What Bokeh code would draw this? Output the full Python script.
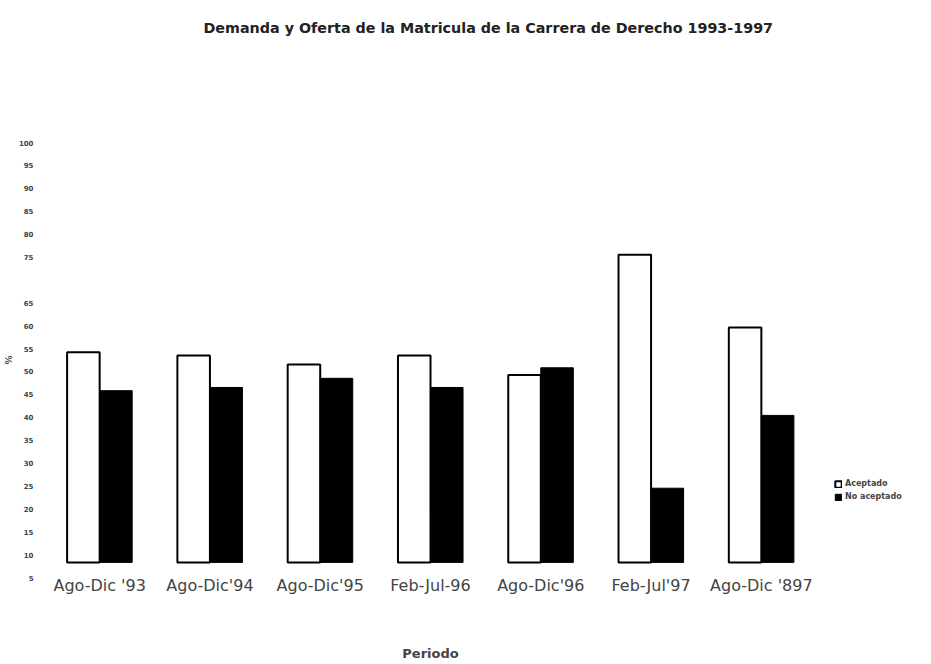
from bokeh.plotting import figure
from bokeh.models import (FactorRange, FixedTicker, Legend, LegendItem,
                          ColumnDataSource, Range1d, Title)
from bokeh.transform import dodge
from bokeh.embed import file_html
from bokeh.resources import INLINE

# ---- data ----
periods = ["Ago-Dic '93", "Ago-Dic'94", "Ago-Dic'95", "Feb-Jul-96",
           "Ago-Dic'96", "Feb-Jul'97", "Ago-Dic '897"]
aceptado = [54.2, 53.5, 51.5, 53.5, 49.2, 75.5, 59.6]
no_aceptado = [45.8, 46.5, 48.5, 46.5, 50.8, 24.5, 40.4]
y_tick_values = [5, 10, 15, 20, 25, 30, 35, 40, 45, 50, 55, 60, 65,
                 75, 80, 85, 90, 95, 100]
bar_base = 8.3          # bars start a little above the lowest tick

title_text = "Demanda y Oferta de la Matricula de la Carrera de Derecho 1993-1997"

source = ColumnDataSource(dict(period=periods, aceptado=aceptado,
                               no_aceptado=no_aceptado,
                               base=[bar_base] * len(periods)))

FONT = "DejaVu Sans"

p = figure(x_range=FactorRange(*periods), y_range=Range1d(5, 100),
           frame_width=772, frame_height=435,
           output_backend="svg", toolbar_location=None,
           min_border=0, min_border_top=142, min_border_left=44)

# spacer (nearest the plot) and real title (outermost), stacked above
p.add_layout(Title(text=" ", text_font_size="2px", standoff=82), "above")
p.add_layout(Title(text=title_text, text_font=FONT, text_font_size="14.3px",
                   text_font_style="bold", align="left", offset=159,
                   vertical_align="top", standoff=38,
                   text_color="#222222"), "above")

bw = 0.295
r1 = p.vbar(x=dodge("period", -bw / 2, range=p.x_range), top="aceptado",
            bottom="base", width=bw, source=source,
            fill_color="white", line_color="black", line_width=2)
r2 = p.vbar(x=dodge("period", bw / 2, range=p.x_range), top="no_aceptado",
            bottom="base", width=bw, source=source,
            fill_color="black", line_color="black", line_width=1)

# axes
p.xgrid.visible = False
p.ygrid.visible = False
p.outline_line_color = None

p.yaxis.ticker = FixedTicker(ticks=y_tick_values)
p.yaxis.axis_line_color = None
p.yaxis.major_tick_line_color = None
p.yaxis.minor_tick_line_color = None
p.yaxis.major_label_text_font = FONT
p.yaxis.major_label_text_font_size = "7px"
p.yaxis.major_label_text_font_style = "bold"
p.yaxis.major_label_standoff = 5
p.yaxis.axis_label = "%"
p.yaxis.axis_label_text_font = FONT
p.yaxis.axis_label_text_font_size = "9px"
p.yaxis.axis_label_text_font_style = "bold"
p.yaxis.axis_label_standoff = 2

p.xaxis.axis_line_color = None
p.xaxis.major_tick_line_color = None
p.xaxis.minor_tick_line_color = None
p.xaxis.major_label_text_font = FONT
p.xaxis.major_label_text_font_size = "16px"
p.xaxis.major_label_standoff = -8
p.xaxis.axis_label = "Periodo"
p.xaxis.axis_label_text_font = FONT
p.xaxis.axis_label_text_font_size = "13px"
p.xaxis.axis_label_text_font_style = "bold"
p.xaxis.axis_label_standoff = 48

legend = Legend(items=[LegendItem(label="Aceptado", renderers=[r1]),
                       LegendItem(label="No aceptado", renderers=[r2])],
                location=(18, 76), border_line_color=None,
                background_fill_alpha=0,
                label_text_font=FONT, label_text_font_size="8px",
                label_text_font_style="bold",
                glyph_width=8, glyph_height=8, label_standoff=3,
                spacing=4, padding=2, margin=0,
                label_height=9)
p.add_layout(legend, "right")

open("out.html", "w").write(file_html(p, INLINE))
